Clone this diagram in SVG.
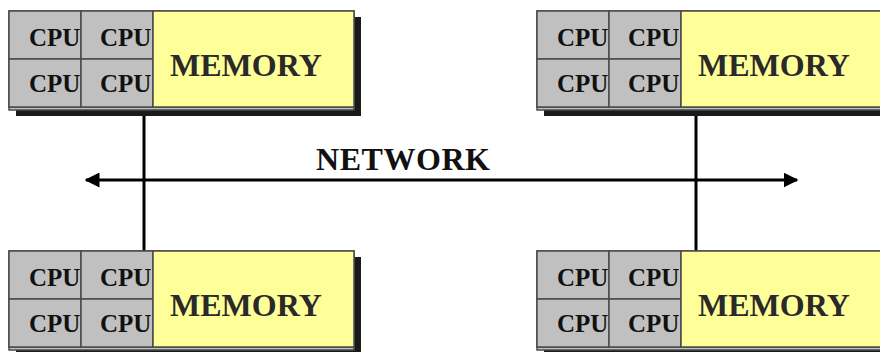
<svg xmlns="http://www.w3.org/2000/svg" width="880" height="352" viewBox="0 0 880 352">
<defs>
<style>
.shadow{fill:#1a1a1a}
.frame{fill:#c0c0c0;stroke:#4a4a4a;stroke-width:1.5}
.cell{fill:#c0c0c0;stroke:#4a4a4a;stroke-width:1.5}
.mem{fill:#ffff99;stroke:#4a4a4a;stroke-width:1.5}
.cpu{font-family:"Liberation Serif","Times New Roman",serif;font-weight:bold;font-size:25px;fill:#111}
.memt{font-family:"Liberation Serif","Times New Roman",serif;font-weight:bold;font-size:32px;fill:#2a2a2a}
.net{font-family:"Liberation Serif","Times New Roman",serif;font-weight:bold;font-size:32px;fill:#111}
.wire{stroke:#000;stroke-width:3;fill:none}
</style>
<marker id="arr" viewBox="0 0 10 10" refX="9" refY="5" markerWidth="5" markerHeight="5" markerUnits="strokeWidth" orient="auto-start-reverse">
<path d="M0,0 L10,5 L0,10 z" fill="#000"/>
</marker>
<g id="smp">
<rect class="shadow" x="7" y="6" width="345" height="99"/>
<rect class="frame" x="0" y="0" width="345" height="99"/>
<line x1="0" y1="96" x2="345" y2="96" stroke="#4a4a4a" stroke-width="1.5"/>
<rect class="cell" x="0" y="0" width="72" height="48"/>
<rect class="cell" x="72" y="0" width="72" height="48"/>
<rect class="cell" x="0" y="48" width="72" height="48"/>
<rect class="cell" x="72" y="48" width="72" height="48"/>
<text class="cpu" x="20" y="35">CPU</text>
<text class="cpu" x="91" y="35">CPU</text>
<text class="cpu" x="20" y="81">CPU</text>
<text class="cpu" x="91" y="81">CPU</text>
<rect class="mem" x="144" y="0" width="201" height="96"/>
<text class="memt" x="161" y="65">MEMORY</text>
</g>
</defs>
<rect width="880" height="352" fill="#fff"/>
<g id="connectors">
<line class="wire" x1="144" y1="110" x2="144" y2="251"/>
<line class="wire" x1="696" y1="110" x2="696" y2="251"/>
<line class="wire" x1="86" y1="180" x2="797" y2="180" marker-start="url(#arr)" marker-end="url(#arr)"/>
</g>
<text class="net" x="316" y="170" textLength="174" lengthAdjust="spacing">NETWORK</text>
<g id="node-top-left" transform="translate(9,11)"><use href="#smp"/></g>
<g id="node-top-right" transform="translate(537,11)"><use href="#smp"/></g>
<g id="node-bottom-left" transform="translate(9,251)"><use href="#smp"/></g>
<g id="node-bottom-right" transform="translate(537,251)"><use href="#smp"/></g>
</svg>
